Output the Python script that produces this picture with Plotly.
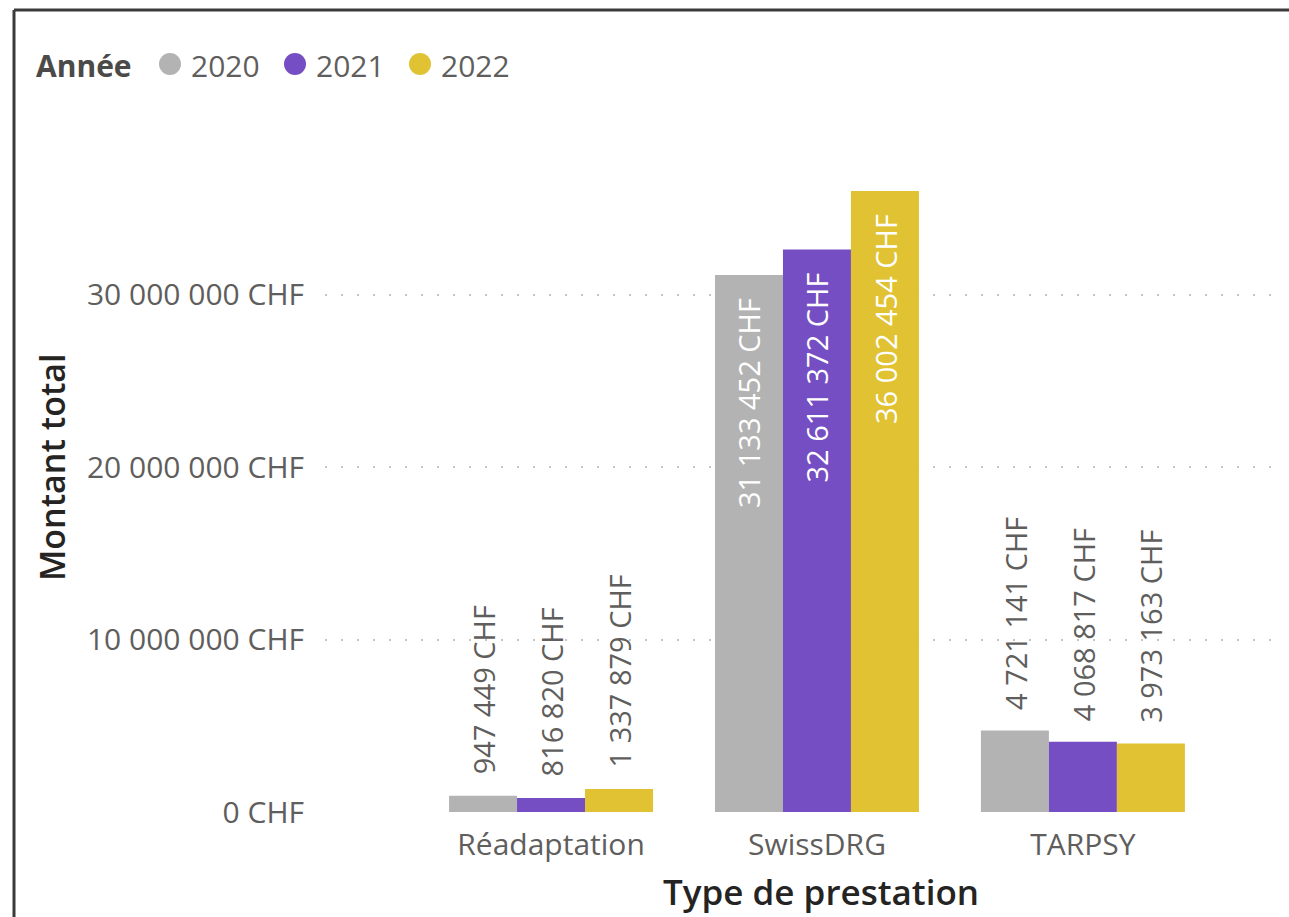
import plotly.graph_objects as go

categories = ["Réadaptation", "SwissDRG", "TARPSY"]
years = ["2020", "2021", "2022"]
values_2020 = [947449, 31133452, 4721141]
values_2021 = [816820, 32611372, 4068817]
values_2022 = [1337879, 36002454, 3973163]
y_ticks = [0, 10000000, 20000000, 30000000]
y_tick_labels = ["0 CHF", "10 000 000 CHF", "20 000 000 CHF", "30 000 000 CHF"]

series = [values_2020, values_2021, values_2022]
colors = ["#B3B3B3", "#744EC2", "#E0C233"]

FONT = "Open Sans, Segoe UI, sans-serif"
GREY_TXT = "#605E5C"
DARK_TXT = "#252423"
BARGAP = 0.233

# plot area in page pixels
L, R, T, B = 325, 1285, 150, 812


def px_x(p):
    return (p - L) / (R - L)


def px_y(p):
    return (B - p) / (B - T)


def chf(v):
    return f"{v:,}".replace(",", " ") + " CHF"


fig = go.Figure()

for year, vals, col in zip(years, series, colors):
    fig.add_trace(go.Bar(
        x=categories, y=vals, name=year,
        marker=dict(color=col, line=dict(width=0)),
        showlegend=False, hoverinfo="x+y",
    ))

# data labels: above the bar if small, inside at the top if large
w = (1 - BARGAP) / len(years)
annotations = []
for j, vals in enumerate(series):
    for i, v in enumerate(vals):
        inside = v > 20000000
        annotations.append(dict(
            x=i + (j - 1) * w, y=v, xref="x", yref="y",
            text=chf(v), showarrow=False, textangle=-90,
            yanchor="top" if inside else "bottom",
            yshift=-21 if inside else 19,
            font=dict(family=FONT, size=29, color="white" if inside else GREY_TXT),
        ))

# Power BI style legend at the top left: title + round swatches
shapes = []
annotations.append(dict(
    x=px_x(34), y=px_y(66), xref="paper", yref="paper",
    xanchor="left", yanchor="middle", showarrow=False,
    text="<b>Année</b>", font=dict(family=FONT, size=30, color="#4B4A48"),
))
for k, (year, col) in enumerate(zip(years, colors)):
    cx = 170 + 125 * k
    shapes.append(dict(
        type="circle", xref="paper", yref="paper",
        xsizemode="pixel", ysizemode="pixel",
        xanchor=px_x(cx), yanchor=px_y(64),
        x0=-11, x1=11, y0=-11, y1=11,
        fillcolor=col, line=dict(width=0),
    ))
    annotations.append(dict(
        x=px_x(cx + 19), y=px_y(66), xref="paper", yref="paper",
        xanchor="left", yanchor="middle", showarrow=False,
        text=year, font=dict(family=FONT, size=30, color=GREY_TXT),
    ))

# axis titles placed like the Power BI visual
annotations.append(dict(
    x=px_x(821), y=px_y(891), xref="paper", yref="paper",
    xanchor="center", yanchor="middle", showarrow=False,
    text="Type de prestation", font=dict(family=FONT, size=35, color=DARK_TXT, weight=600),
))
annotations.append(dict(
    x=px_x(52), y=px_y(467), xref="paper", yref="paper",
    xanchor="center", yanchor="middle", showarrow=False, textangle=-90,
    text="Montant total", font=dict(family=FONT, size=34, color=DARK_TXT, weight=600),
))

# outer frame of the visual (only top and left edges are in view)
frame = dict(color="#3A3A3A", width=3)
shapes.append(dict(type="line", xref="paper", yref="paper", layer="above",
                   x0=px_x(14), x1=px_x(1289), y0=px_y(10), y1=px_y(10), line=frame))
shapes.append(dict(type="line", xref="paper", yref="paper", layer="above",
                   x0=px_x(14), x1=px_x(14), y0=px_y(10), y1=px_y(917), line=frame))

fig.update_layout(
    width=1289, height=917,
    margin=dict(l=L, r=1289 - R, t=T, b=917 - B),
    paper_bgcolor="white", plot_bgcolor="white",
    barmode="group", bargap=BARGAP, bargroupgap=0,
    font=dict(family=FONT, size=30, color=GREY_TXT),
    showlegend=False,
    annotations=annotations,
    shapes=shapes,
    xaxis=dict(
        type="category", range=[-0.85, 2.76],
        showgrid=False, zeroline=False, showline=False, ticks="",
        tickfont=dict(size=30, color=GREY_TXT),
        ticklabelstandoff=12,
    ),
    yaxis=dict(
        range=[0, 38380000],
        tickvals=y_ticks, ticktext=y_tick_labels,
        tickfont=dict(size=30, color=GREY_TXT),
        ticklabelstandoff=20,
        showgrid=True, gridcolor="#C4C4C4", gridwidth=2, griddash="2px,14px",
        zeroline=False, showline=False, ticks="",
    ),
)

fig.write_html(
    "out.html",
    config={"displayModeBar": False},
    post_script="document.body.style.margin='0';document.body.style.overflow='hidden';",
)
